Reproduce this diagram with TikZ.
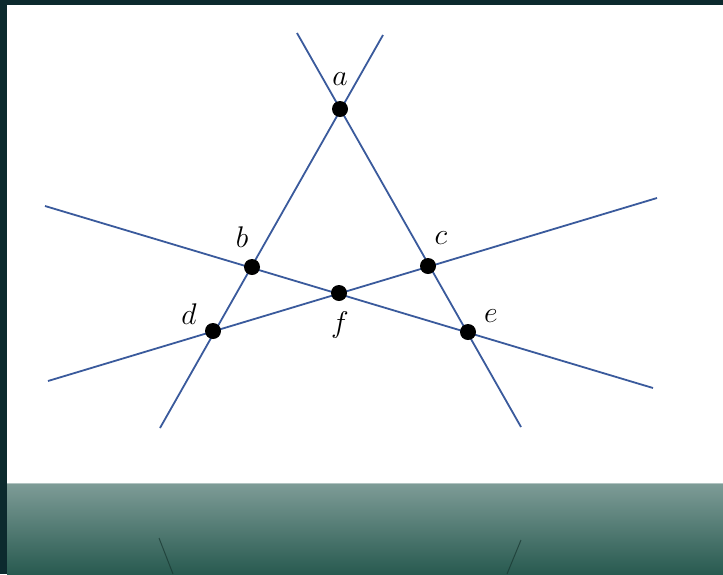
\documentclass[tikz,border=0pt]{standalone}
\usetikzlibrary{calc}
\definecolor{frame}{HTML}{0C2A2E}
\definecolor{lineblue}{HTML}{3A5A9C}
\definecolor{gradtop}{HTML}{7E9C97}
\definecolor{gradbot}{HTML}{285A50}
\newcommand{\biglbl}[1]{\scalebox{1.2}{\Huge$#1$}}
\begin{document}
\begin{tikzpicture}[x=1pt,y=-1pt,
  geo/.style={draw=lineblue,line width=1.8pt},
  pt/.style={circle,fill=black,inner sep=0pt,minimum size=16pt},
  lbl/.style={inner sep=0pt}]
\useasboundingbox (0,0) rectangle (723,574);
\fill[frame] (0,0) rectangle (723,574);
\fill[white] (7,5) rectangle (723,483);
\shade[top color=gradtop,bottom color=gradbot] (7,483) rectangle (723,574);
\draw[gradtop!60!white,line width=1pt] (7,483.5) -- (723,483.5);
% faint reflection
\draw[gradbot!60!black,line width=1pt,opacity=0.7] (159,538) -- (173,574);
\draw[gradbot!60!black,line width=1pt,opacity=0.7] (521,540) -- (507,574);
% end points
\coordinate (l1a) at (160,428); \coordinate (l1b) at (383,35);
\coordinate (l2a) at (297,33); \coordinate (l2b) at (521,427);
\coordinate (l3a) at (45,206); \coordinate (l3b) at (653,388);
\coordinate (l4a) at (48,381); \coordinate (l4b) at (657,198);
\draw[geo] (l1a) -- (l1b);
\draw[geo] (l2a) -- (l2b);
\draw[geo] (l3a) -- (l3b);
\draw[geo] (l4a) -- (l4b);
\node[pt] (a) at (340,109) {};
\node[pt] (b) at (252,267) {};
\node[pt] (c) at (428,266) {};
\node[pt] (d) at (213,331) {};
\node[pt] (e) at (468,332) {};
\node[pt] (f) at (339,293) {};
\node[lbl] (la) at (340,79) {\biglbl{a}};
\node[lbl] (lb) at (242,237) {\biglbl{b}};
\node[lbl] (lc) at (441,238) {\biglbl{c}};
\node[lbl] (ld) at (189,314) {\biglbl{d}};
\node[lbl] (le) at (491,316) {\biglbl{e}};
\node[lbl] (lf) at (340,325) {\biglbl{f}};
\end{tikzpicture}
\end{document}
